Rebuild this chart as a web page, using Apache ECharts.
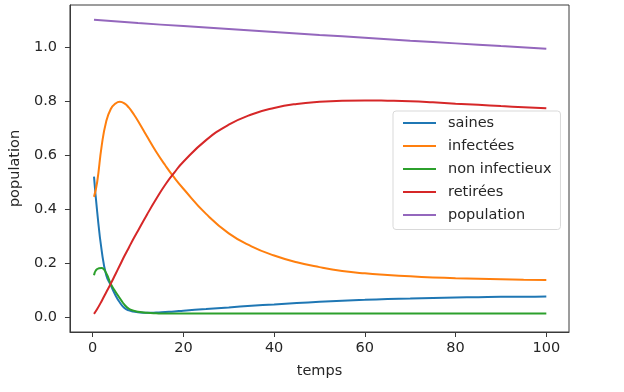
<!DOCTYPE html>
<html>
<head>
<meta charset="utf-8">
<script src="https://cdn.jsdelivr.net/npm/echarts@6/dist/echarts.min.js"></script>
<style>html,body{margin:0;padding:0;background:#fff}#c{width:624px;height:392px}</style>
</head>
<body>
<div id="c"></div>
<script>
// Data
const temps = [0.3, 1, 2, 3, 4, 5, 6, 7, 8, 9, 10, 12, 14, 16, 18, 20, 25, 30, 35, 40, 45, 50, 55, 60, 65, 70, 75, 80, 85, 90, 95, 100];
const saines = [0.52, 0.39, 0.245, 0.155, 0.118, 0.082, 0.054, 0.034, 0.025, 0.021, 0.018, 0.016, 0.017, 0.019, 0.021, 0.024, 0.03, 0.036, 0.042, 0.047, 0.052, 0.057, 0.061, 0.064, 0.067, 0.069, 0.071, 0.073, 0.074, 0.075, 0.075, 0.076];
const infectees = [0.445, 0.5, 0.635, 0.725, 0.77, 0.79, 0.797, 0.791, 0.775, 0.752, 0.726, 0.668, 0.612, 0.562, 0.516, 0.475, 0.382, 0.31, 0.262, 0.228, 0.203, 0.185, 0.171, 0.162, 0.156, 0.151, 0.147, 0.144, 0.142, 0.14, 0.138, 0.137];
const nonInfectieux = [0.155, 0.178, 0.182, 0.162, 0.123, 0.095, 0.07, 0.046, 0.031, 0.024, 0.02, 0.016, 0.014, 0.013, 0.013, 0.013, 0.013, 0.013, 0.013, 0.013, 0.013, 0.013, 0.013, 0.013, 0.013, 0.013, 0.013, 0.013, 0.013, 0.013, 0.013, 0.013];
const retirees = [0.012, 0.03, 0.06, 0.092, 0.124, 0.158, 0.192, 0.226, 0.258, 0.29, 0.32, 0.38, 0.437, 0.49, 0.535, 0.575, 0.655, 0.712, 0.75, 0.774, 0.789, 0.797, 0.801, 0.802, 0.801, 0.799, 0.795, 0.79, 0.786, 0.781, 0.777, 0.773];
const tempsPop = [0.3, 10, 20, 30, 40, 50, 60, 70, 80, 90, 100];
const population = [1.1, 1.088, 1.077, 1.066, 1.055, 1.044, 1.034, 1.023, 1.013, 1.003, 0.993];
const seriesNames = ['saines', 'infectées', 'non infectieux', 'retirées', 'population'];
const colors = ['#1f77b4', '#ff7f0e', '#2ca02c', '#d62728', '#9467bd'];
const xTicks = [0, 20, 40, 60, 80, 100];
const yTicks = [0, 0.2, 0.4, 0.6, 0.8, 1.0];

const pair = (xs, ys) => xs.map((x, i) => [x, ys[i]]);
const allData = [pair(temps, saines), pair(temps, infectees), pair(temps, nonInfectieux), pair(temps, retirees), pair(tempsPop, population)];

const FONT = 'DejaVu Sans';
const FS = 14.5;
const txt = '#262626';
const frame = '#3a3a3a';
const chart = echarts.init(document.getElementById('c'));
chart.setOption({
  animation: false,
  textStyle: { fontFamily: FONT },
  color: colors,
  grid: { left: 67, right: 55, top: 5, bottom: 60, show: true, borderColor: frame, borderWidth: 1, backgroundColor: 'transparent' },
  legend: {
    orient: 'vertical', left: 393, top: 111,
    padding: [4.5, 9, 7, 10],
    backgroundColor: '#fff', borderColor: '#d9d9d9', borderWidth: 1, borderRadius: 3,
    itemWidth: 33, itemHeight: 2, itemGap: 8, icon: 'rect',
    textStyle: { fontFamily: FONT, fontSize: FS, color: txt, padding: [0, 0, 0, 7] },
    data: seriesNames
  },
  xAxis: {
    type: 'value', min: -5, max: 105,
    name: 'temps', nameLocation: 'middle', nameGap: 32,
    nameTextStyle: { fontFamily: FONT, fontSize: FS, color: txt },
    axisLine: { show: true, onZero: false, lineStyle: { color: frame, width: 1 } },
    axisTick: { show: true, inside: false, length: 5, customValues: xTicks, lineStyle: { color: frame } },
    axisLabel: { customValues: xTicks, fontFamily: FONT, fontSize: FS, color: txt, margin: 9 },
    splitLine: { show: false }
  },
  yAxis: {
    type: 'value', min: -0.055, max: 1.155,
    name: 'population', nameLocation: 'middle', nameGap: 42, nameRotate: 90,
    nameTextStyle: { fontFamily: FONT, fontSize: FS, color: txt },
    axisLine: { show: true, onZero: false, lineStyle: { color: frame, width: 1 } },
    axisTick: { show: true, inside: false, length: 5, customValues: yTicks, lineStyle: { color: frame } },
    axisLabel: { customValues: yTicks, fontFamily: FONT, fontSize: FS, color: txt, margin: 13, formatter: v => v.toFixed(1) },
    splitLine: { show: false }
  },
  series: seriesNames.map((n, i) => ({
    name: n, type: 'line', data: allData[i], showSymbol: false, symbol: 'none',
    smooth: 0.5,
    lineStyle: { width: 2, color: colors[i] }, itemStyle: { color: colors[i] }
  }))
});
</script>
</body>
</html>
